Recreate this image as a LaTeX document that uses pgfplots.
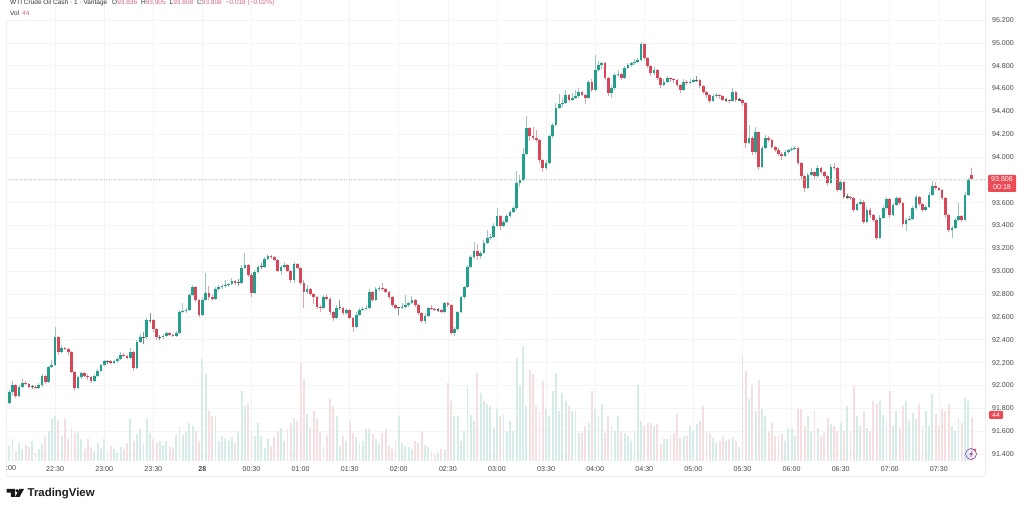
\documentclass[border=0pt]{standalone}
\usepackage{pgfplots}
\usepackage{pgfplotstable}
\usepackage{fontspec}
\pgfplotsset{compat=1.18}
\setmainfont{Liberation Sans}
\definecolor{cup}{HTML}{23A08D}
\definecolor{cdn}{HTML}{D9465A}
\definecolor{wup}{HTML}{9CC7BE}
\definecolor{wdn}{HTML}{DFA3AA}
\definecolor{vup}{HTML}{D6ECE8}
\definecolor{vdn}{HTML}{F6DFE0}
\definecolor{dji}{HTML}{55605C}
\definecolor{gridc}{HTML}{F4F4F4}
\definecolor{hdr}{HTML}{D9657A}
\definecolor{lbl}{HTML}{EC4A55}
\definecolor{bolt}{HTML}{8A4FB5}
\pgfplotstableread{
t o h l c v
0 91.67 91.83 91.67 91.82 23
2 91.85 91.96 91.84 91.94 15
4 91.94 92.04 91.92 92.00 22
6 92.00 92.01 91.89 91.91 10
8 91.91 92.00 91.90 91.99 18
10 91.99 92.06 91.98 92.02 12
12 92.02 92.04 92.00 92.01 16
14 92.01 92.02 91.98 91.99 14
16 91.99 92.00 91.97 91.99 20
18 91.99 92.00 91.97 91.98 8
20 91.98 92.02 91.97 92.00 12
22 92.00 92.10 91.99 92.08 17
24 92.08 92.09 92.01 92.03 25
26 92.03 92.17 92.02 92.16 30
28 92.16 92.22 92.15 92.18 42
30 92.18 92.51 92.17 92.42 45
32 92.42 92.43 92.27 92.29 40
34 92.29 92.35 92.28 92.33 25
36 92.33 92.34 92.31 92.32 42
38 92.32 92.33 92.27 92.29 22
40 92.29 92.30 92.11 92.12 33
42 92.12 92.13 91.95 91.98 28
44 91.98 92.08 91.97 92.07 30
46 92.07 92.12 92.06 92.11 22
48 92.11 92.12 92.07 92.08 12
50 92.08 92.10 92.05 92.07 22
52 92.07 92.08 92.02 92.04 14
54 92.04 92.10 92.03 92.08 10
56 92.08 92.14 92.07 92.13 18
58 92.13 92.19 92.12 92.18 12
60 92.18 92.22 92.17 92.21 22
62 92.21 92.22 92.19 92.21 10
64 92.21 92.22 92.19 92.20 15
66 92.20 92.22 92.19 92.21 12
68 92.21 92.25 92.20 92.23 9
70 92.23 92.29 92.22 92.27 14
72 92.27 92.28 92.25 92.26 12
74 92.26 92.27 92.23 92.24 18
76 92.24 92.33 92.23 92.29 42
78 92.29 92.30 92.13 92.15 20
80 92.15 92.40 92.14 92.38 27
82 92.38 92.45 92.37 92.42 32
84 92.42 92.47 92.36 92.42 18
86 92.42 92.59 92.41 92.57 42
88 92.57 92.63 92.55 92.57 28
90 92.57 92.58 92.47 92.49 22
92 92.49 92.50 92.40 92.42 18
94 92.42 92.44 92.40 92.42 20
96 92.42 92.45 92.41 92.43 16
98 92.43 92.48 92.42 92.46 20
100 92.46 92.47 92.43 92.44 14
102 92.44 92.45 92.42 92.43 12
104 92.43 92.48 92.42 92.46 26
106 92.46 92.66 92.45 92.64 34
108 92.64 92.72 92.63 92.65 26
110 92.65 92.68 92.63 92.66 30
112 92.66 92.81 92.65 92.79 38
114 92.79 92.88 92.78 92.86 35
116 92.86 92.87 92.73 92.75 30
118 92.75 92.76 92.60 92.62 20
120 92.62 92.77 92.61 92.75 102
122 92.75 92.98 92.74 92.81 87
124 92.81 92.87 92.75 92.77 50
126 92.77 92.80 92.74 92.76 45
128 92.76 92.86 92.75 92.84 45
130 92.84 92.88 92.83 92.86 20
132 92.86 92.89 92.84 92.87 25
134 92.87 92.92 92.85 92.88 22
136 92.88 92.90 92.86 92.89 20
138 92.89 92.94 92.88 92.91 24
140 92.91 92.92 92.88 92.90 18
142 92.90 92.93 92.87 92.90 30
144 92.90 93.05 92.89 93.03 70
146 93.03 93.16 93.02 93.05 55
148 93.05 93.06 92.95 92.97 57
150 92.97 92.98 92.77 92.81 30
152 92.81 93.01 92.80 92.99 25
154 92.99 93.05 92.98 93.04 38
156 93.04 93.07 93.02 93.04 25
158 93.04 93.12 93.03 93.11 13
160 93.11 93.15 93.10 93.13 22
162 93.13 93.14 93.11 93.12 15
164 93.12 93.13 93.09 93.10 24
166 93.10 93.11 92.99 93.00 30
168 93.00 93.05 92.97 93.04 33
170 93.04 93.08 93.03 93.05 20
172 93.05 93.06 92.99 93.00 32
174 93.00 93.01 92.90 92.92 38
176 92.92 93.08 92.90 93.06 43
178 93.06 93.07 93.02 93.03 40
180 93.03 93.04 92.88 92.90 98
182 92.90 92.92 92.68 92.82 82
184 92.82 92.88 92.80 92.84 47
186 92.84 92.85 92.78 92.80 33
188 92.80 92.81 92.71 92.77 50
190 92.77 92.78 92.67 92.69 42
192 92.69 92.70 92.64 92.68 30
194 92.68 92.79 92.67 92.77 15
196 92.77 92.80 92.75 92.76 25
198 92.76 92.77 92.62 92.64 62
200 92.64 92.65 92.56 92.59 55
202 92.59 92.70 92.58 92.68 45
204 92.68 92.75 92.66 92.68 15
206 92.68 92.69 92.62 92.63 25
208 92.63 92.68 92.62 92.66 20
210 92.66 92.67 92.58 92.59 40
212 92.59 92.60 92.47 92.51 28
214 92.51 92.64 92.50 92.62 24
216 92.62 92.68 92.61 92.66 18
218 92.66 92.69 92.65 92.67 20
220 92.67 92.70 92.66 92.68 32
222 92.68 92.84 92.67 92.82 32
224 92.82 92.83 92.73 92.75 27
226 92.75 92.86 92.74 92.84 22
228 92.84 92.87 92.83 92.85 18
230 92.85 92.90 92.83 92.84 28
232 92.84 92.85 92.81 92.82 32
234 92.82 92.83 92.76 92.77 15
236 92.77 92.78 92.69 92.70 12
238 92.70 92.71 92.66 92.68 20
240 92.68 92.69 92.62 92.68 45
242 92.68 92.72 92.67 92.69 18
244 92.69 92.79 92.68 92.70 15
246 92.70 92.73 92.69 92.72 14
248 92.72 92.78 92.71 92.75 12
250 92.75 92.76 92.69 92.70 20
252 92.70 92.71 92.62 92.63 18
254 92.63 92.64 92.55 92.56 30
256 92.56 92.63 92.54 92.61 16
258 92.61 92.69 92.60 92.68 14
260 92.68 92.70 92.66 92.67 10
262 92.67 92.68 92.65 92.66 6
264 92.66 92.68 92.64 92.66 8
266 92.66 92.67 92.63 92.64 12
268 92.64 92.73 92.63 92.72 11
270 92.72 92.73 92.69 92.70 78
272 92.70 92.71 92.44 92.46 60
274 92.46 92.51 92.43 92.49 45
276 92.49 92.65 92.48 92.64 45
278 92.64 92.78 92.63 92.77 20
280 92.77 92.87 92.76 92.86 30
282 92.86 93.05 92.85 93.04 75
284 93.04 93.14 93.03 93.12 46
286 93.12 93.26 93.11 93.18 40
288 93.18 93.24 93.10 93.13 88
290 93.13 93.18 93.11 93.16 68
292 93.16 93.27 93.15 93.25 60
294 93.25 93.36 93.24 93.29 57
296 93.29 93.33 93.27 93.30 55
298 93.30 93.42 93.29 93.40 33
300 93.40 93.55 93.39 93.48 52
302 93.48 93.49 93.36 93.40 45
304 93.40 93.45 93.39 93.43 47
306 93.43 93.50 93.42 93.48 30
308 93.48 93.54 93.47 93.52 40
310 93.52 93.57 93.51 93.55 30
312 93.55 93.88 93.54 93.77 103
314 93.77 93.84 93.74 93.80 75
316 93.80 94.08 93.79 94.03 115
318 94.03 94.36 94.02 94.25 55
320 94.25 94.26 94.14 94.18 91
322 94.18 94.26 94.15 94.17 87
324 94.17 94.24 94.13 94.15 55
326 94.15 94.16 93.95 93.97 50
328 93.97 93.98 93.87 93.90 80
330 93.90 93.97 93.89 93.95 52
332 93.95 94.19 93.94 94.18 45
334 94.18 94.30 94.17 94.28 70
336 94.28 94.47 94.27 94.43 88
338 94.43 94.55 94.42 94.46 50
340 94.46 94.52 94.44 94.47 68
342 94.47 94.59 94.46 94.54 60
344 94.54 94.55 94.48 94.50 55
346 94.50 94.56 94.49 94.52 50
348 94.52 94.59 94.51 94.53 50
350 94.53 94.60 94.52 94.57 28
352 94.57 94.58 94.53 94.54 28
354 94.54 94.55 94.46 94.52 35
356 94.52 94.67 94.51 94.66 38
358 94.66 94.68 94.57 94.59 70
360 94.59 94.89 94.58 94.76 52
362 94.76 94.84 94.75 94.81 45
364 94.81 94.83 94.77 94.82 57
366 94.82 94.83 94.67 94.69 28
368 94.69 94.70 94.53 94.56 45
370 94.56 94.62 94.52 94.60 35
372 94.60 94.74 94.59 94.72 30
374 94.72 94.76 94.70 94.73 45
376 94.73 94.74 94.67 94.69 30
378 94.69 94.80 94.68 94.78 28
380 94.78 94.82 94.77 94.81 25
382 94.81 94.83 94.79 94.82 20
384 94.82 94.86 94.81 94.83 30
386 94.83 94.87 94.82 94.85 76
388 94.85 95.01 94.84 94.99 40
390 94.99 95.00 94.85 94.87 35
392 94.87 94.88 94.78 94.80 38
394 94.80 94.81 94.71 94.74 38
396 94.74 94.79 94.72 94.76 35
398 94.76 94.77 94.67 94.69 37
400 94.69 94.70 94.60 94.63 17
402 94.63 94.68 94.62 94.66 22
404 94.66 94.71 94.65 94.69 22
406 94.69 94.70 94.66 94.68 25
408 94.68 94.69 94.65 94.67 28
410 94.67 94.68 94.61 94.63 47
412 94.63 94.64 94.56 94.59 23
414 94.59 94.68 94.58 94.66 25
416 94.66 94.67 94.63 94.65 25
418 94.65 94.68 94.64 94.66 35
420 94.66 94.69 94.65 94.67 30
422 94.67 94.71 94.66 94.67 37
424 94.67 94.68 94.60 94.62 40
426 94.62 94.63 94.55 94.57 55
428 94.57 94.58 94.52 94.54 30
430 94.54 94.55 94.47 94.49 28
432 94.49 94.55 94.48 94.53 23
434 94.53 94.56 94.52 94.54 18
436 94.54 94.55 94.51 94.53 20
438 94.53 94.54 94.49 94.50 25
440 94.50 94.52 94.48 94.50 20
442 94.50 94.51 94.47 94.49 22
444 94.49 94.60 94.48 94.57 24
446 94.57 94.58 94.48 94.50 20
448 94.50 94.52 94.49 94.50 14
450 94.50 94.51 94.45 94.47 105
452 94.47 94.48 94.08 94.12 90
454 94.12 94.28 94.11 94.17 62
456 94.17 94.18 94.02 94.04 76
458 94.04 94.26 94.03 94.22 50
460 94.22 94.23 93.89 93.91 81
462 93.91 94.10 93.90 94.08 52
464 94.08 94.19 94.07 94.17 45
466 94.17 94.18 94.13 94.15 30
468 94.15 94.16 94.07 94.09 38
470 94.09 94.10 94.04 94.06 25
472 94.06 94.08 94.01 94.03 25
474 94.03 94.04 93.97 94.01 27
476 94.01 94.06 94.00 94.04 20
478 94.04 94.07 94.03 94.06 33
480 94.06 94.09 94.05 94.07 33
482 94.07 94.10 94.06 94.08 25
484 94.08 94.09 93.93 93.95 52
486 93.95 93.96 93.81 93.83 52
488 93.83 93.84 93.69 93.73 35
490 93.73 93.86 93.72 93.84 45
492 93.84 93.90 93.83 93.87 30
494 93.87 93.88 93.80 93.83 51
496 93.83 93.93 93.82 93.90 33
498 93.90 93.91 93.85 93.87 25
500 93.87 93.88 93.82 93.83 28
502 93.83 93.84 93.75 93.77 43
504 93.77 93.94 93.76 93.91 37
506 93.91 93.95 93.89 93.90 35
508 93.90 93.91 93.69 93.71 30
510 93.71 93.80 93.70 93.78 38
512 93.78 93.79 93.63 93.65 30
514 93.65 93.68 93.63 93.65 55
516 93.65 93.66 93.62 93.64 30
518 93.64 93.65 93.52 93.54 75
520 93.54 93.60 93.53 93.59 45
522 93.59 93.63 93.58 93.61 35
524 93.61 93.62 93.41 93.43 50
526 93.43 93.56 93.42 93.54 33
528 93.54 93.55 93.47 93.49 30
530 93.49 93.50 93.43 93.45 60
532 93.45 93.46 93.27 93.29 57
534 93.29 93.49 93.28 93.47 60
536 93.47 93.57 93.46 93.55 46
538 93.55 93.65 93.54 93.63 40
540 93.63 93.64 93.47 93.49 70
542 93.49 93.60 93.48 93.58 35
544 93.58 93.66 93.57 93.64 50
546 93.64 93.65 93.58 93.60 33
548 93.60 93.61 93.39 93.41 55
550 93.41 93.47 93.35 93.45 60
552 93.45 93.48 93.44 93.46 40
554 93.46 93.57 93.45 93.55 48
556 93.55 93.67 93.54 93.65 42
558 93.65 93.66 93.57 93.59 57
560 93.59 93.60 93.52 93.54 35
562 93.54 93.58 93.53 93.56 50
564 93.56 93.69 93.55 93.67 35
566 93.67 93.79 93.66 93.75 67
568 93.75 93.78 93.71 93.73 47
570 93.73 93.74 93.70 93.71 35
572 93.71 93.72 93.62 93.64 52
574 93.64 93.65 93.47 93.49 50
576 93.49 93.50 93.34 93.36 57
578 93.36 93.40 93.29 93.38 35
580 93.38 93.47 93.37 93.45 30
582 93.45 93.60 93.44 93.48 43
584 93.48 93.49 93.43 93.45 38
586 93.45 93.69 93.44 93.67 63
588 93.67 93.82 93.66 93.80 60
590 93.84 93.905 93.808 93.808 44
}\candles
\pgfplotsset{
  base/.style={scale only axis, width=979pt, height=461pt, at={(6pt,49pt)}, anchor=south west,
    xmin=0, xmax=598.2, clip=true},
  wick/.style={draw=none, mark=none, forget plot, error bars/y dir=plus, error bars/y explicit, error bars/error mark=none,
    error bars/error bar style={line width=0.9pt, draw=#1}},
  body/.style={draw=none, mark=none, forget plot, error bars/y dir=plus, error bars/y explicit, error bars/error mark=none,
    error bars/error bar style={line width=2.7pt, draw=#1}},
}
\begin{document}
\begin{tikzpicture}
\fill[white] (0,0) rectangle (1024pt,510pt);
\path[use as bounding box] (0,0) rectangle (1024pt,510pt);
% grid and price scale
\begin{axis}[base, ymin=91.338, ymax=95.375,
  axis line style={draw=none},
  grid=major, grid style={gridc, line width=0.6pt},
  xtick={30,60,...,570},
  xticklabels={22:30,23:00,23:30,\textbf{28},00:30,01:00,01:30,02:00,02:30,03:00,03:30,04:00,04:30,05:00,05:30,06:00,06:30,07:00,07:30},
  ytick={91.4,91.6,91.8,92.0,92.2,92.4,92.6,92.8,93.0,93.2,93.4,93.6,93.8,94.0,94.2,94.4,94.6,94.8,95.0,95.2},
  yticklabel pos=right,
  /pgf/number format/fixed,
  /pgf/number format/fixed zerofill,
  /pgf/number format/precision=3,
  /pgf/number format/assume math mode=true,
  major tick length=0pt,
  tick label style={font=\fontsize{7.1}{8}\selectfont, text=black!72},
  xticklabel style={yshift=-2pt},
  yticklabel style={xshift=3.5pt},
]
\end{axis}
% volume
\begin{axis}[base, ymin=0, ymax=461, hide axis]
\addplot[ycomb, no marks, line width=1.9pt, vup, forget plot, restrict expr to domain={\thisrow{c}-\thisrow{o}}{-0.004:10}] table[x=t,y=v]{\candles};
\addplot[ycomb, no marks, line width=1.9pt, vdn, forget plot, restrict expr to domain={\thisrow{c}-\thisrow{o}}{-10:-0.004}] table[x=t,y=v]{\candles};
\end{axis}
% candles
\begin{axis}[base, ymin=91.338, ymax=95.375, hide axis]
\addplot[wick=wup, restrict expr to domain={\thisrow{c}-\thisrow{o}}{0.004:10}] table[x=t, y=l, y error plus expr=\thisrow{h}-\thisrow{l}]{\candles};
\addplot[wick=wdn, restrict expr to domain={\thisrow{c}-\thisrow{o}}{-10:-0.004}] table[x=t, y=l, y error plus expr=\thisrow{h}-\thisrow{l}]{\candles};
\addplot[wick=dji!70, restrict expr to domain={\thisrow{c}-\thisrow{o}}{-0.004:0.004}] table[x=t, y=l, y error plus expr=\thisrow{h}-\thisrow{l}]{\candles};
\addplot[body=cup, restrict expr to domain={\thisrow{c}-\thisrow{o}}{0.004:10}] table[x=t, y=o, y error plus expr=\thisrow{c}-\thisrow{o}]{\candles};
\addplot[body=cdn, restrict expr to domain={\thisrow{c}-\thisrow{o}}{-10:-0.004}] table[x=t, y=c, y error plus expr=\thisrow{o}-\thisrow{c}]{\candles};
\addplot[body=dji, restrict expr to domain={\thisrow{c}-\thisrow{o}}{-0.004:0.004}] table[x=t, y expr=\thisrow{o}-0.006, y error plus expr=0.012]{\candles};
\end{axis}
% overlay in pixel coordinates
\begin{scope}[x=1pt,y=-1pt,shift={(0pt,510pt)}]
\draw[black!22, line width=0.5pt, dotted] (6,179) -- (985,179);
\draw[black!8, line width=0.7pt] (6,476) -- (985,476);
\draw[black!8, line width=0.7pt] (985,0) -- (985,476);
\draw[black!6, line width=0.7pt] (6,20) -- (6,476);
\node[anchor=west, inner sep=0, font=\fontsize{7.1}{8}\selectfont, text=black!72] at (6,468) {:00};
% header
\node[anchor=west, inner sep=0, font=\fontsize{6.5}{8}\selectfont, text=black!80] at (10,3) {WTI Crude Oil Cash · 1 · Vantage};
\node[anchor=west, inner sep=0, font=\fontsize{6.5}{8}\selectfont, text=black!80] at (112,3) {O\textcolor{hdr}{93.836}\hspace{4pt}H\textcolor{hdr}{93.905}\hspace{4pt}L\textcolor{hdr}{93.808}\hspace{4pt}C\textcolor{hdr}{93.808}\hspace{4pt}\textcolor{hdr}{−0.018 (−0.02\%)}};
\node[anchor=west, inner sep=0, font=\fontsize{6.5}{8}\selectfont, text=black!80] at (10,13) {Vol\hspace{3pt}\textcolor{hdr}{44}};
% last price label
\fill[rounded corners=1pt, fill=lbl] (988,175) rectangle (1016,192);
\node[inner sep=0, font=\fontsize{7.1}{8}\selectfont, text=white] at (1002,179.5) {93.808};
\node[inner sep=0, font=\fontsize{7.1}{8}\selectfont, text=white] at (1002,187.5) {00:18};
% volume label
\fill[rounded corners=1pt, fill=lbl] (989,411) rectangle (1003,419);
\node[inner sep=0, font=\fontsize{6.5}{8}\selectfont, text=white] at (996,415) {44};
% bolt icon
\draw[bolt, line width=0.7pt] (971,454) circle (5.5);
\fill[bolt] (972.3,450.5) -- (969.2,454.6) -- (970.9,454.6) -- (969.8,457.5) -- (973,453.3) -- (971.2,453.3) -- cycle;
\fill[lbl] (975,450) circle (1.4);
% logo
\fill[black!90] (6.5,489) -- (15,489) -- (15,497) -- (10.8,497) -- (10.8,492.6) -- (6.5,492.6) -- cycle;
\fill[black!90] (17.2,490.8) circle (1.8);
\fill[black!90] (19.5,489) -- (24,489) -- (19.5,497) -- (15,497) -- cycle;
\node[anchor=west, inner sep=0, font=\fontsize{11.4}{13}\selectfont\bfseries, text=black!88] at (27.5,493.3) {TradingView};
\end{scope}
\end{tikzpicture}
\end{document}
